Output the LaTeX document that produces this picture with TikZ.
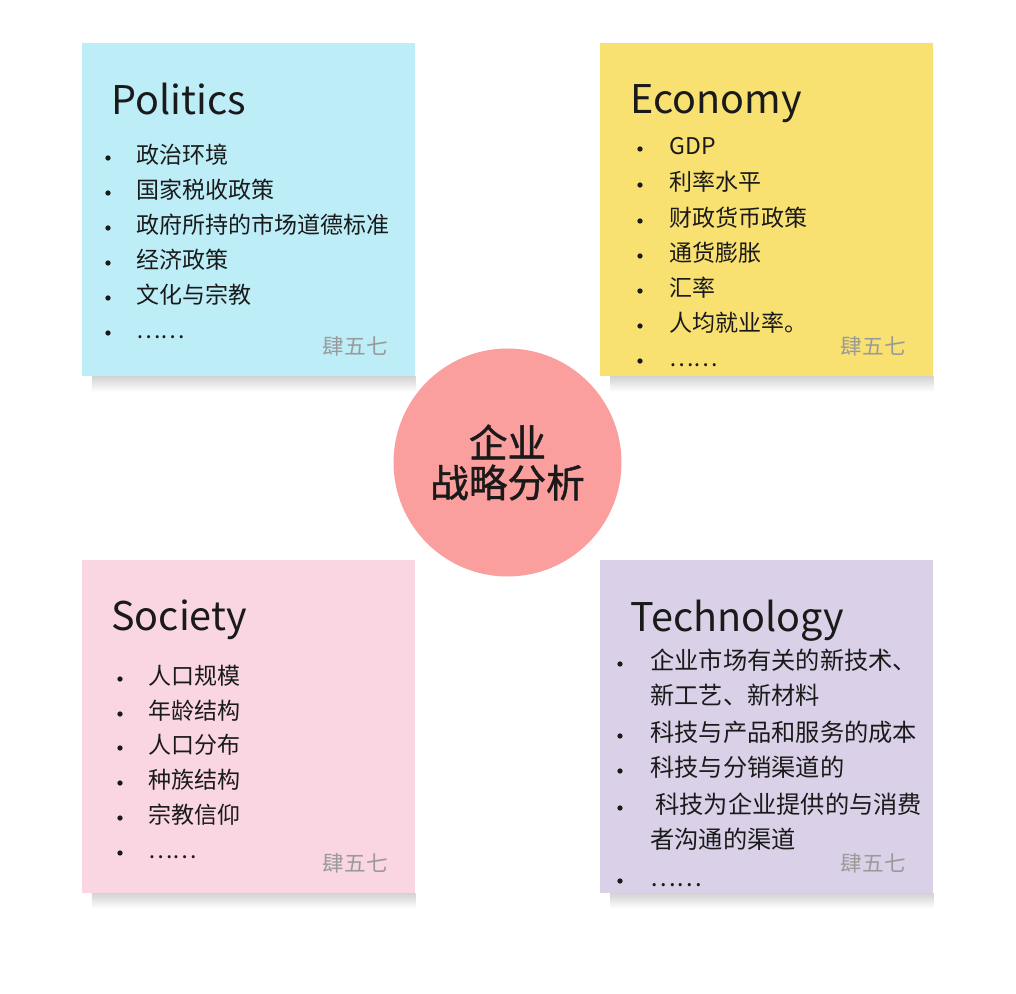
\documentclass[tikz,border=0pt]{standalone}
\usepackage{fontspec}
\setmainfont{Noto Sans CJK SC}
\newfontfamily\corefont[FakeBold=1.2]{Noto Sans CJK SC}
\definecolor{ink}{HTML}{1A1A1A}
\definecolor{signgray}{HTML}{9A9A9A}
\definecolor{polfill}{HTML}{BDEEF8}
\definecolor{ecofill}{HTML}{F8E071}
\definecolor{socfill}{HTML}{F9D6E1}
\definecolor{techfill}{HTML}{DAD1E8}
\definecolor{corefill}{HTML}{FA9E9E}
\begin{document}
\begin{tikzpicture}[x=0.02cm,y=-0.02cm,
  card/.style={anchor=north west,inner sep=0,minimum width=6.66cm,minimum height=6.66cm},
  head/.style={anchor=base west,inner sep=0,text=ink,font=\fontsize{22.5}{27}\selectfont},
  itm/.style={anchor=west,inner sep=0,text=ink,text height=0.88em,text depth=0.12em,
    font=\fontsize{13.1}{16}\selectfont},
  titm/.style={itm,font=\fontsize{13.8}{16}\selectfont},
  bul/.style={circle,fill=ink,inner sep=0,minimum size=3pt},
  sign/.style={anchor=east,inner sep=0,text=signgray,text height=0.88em,text depth=0.12em,
    font=\fontsize{12.3}{15}\selectfont}]
  \useasboundingbox (0,0) rectangle (1016,993);
  \fill[white] (0,0) rectangle (1016,993);

  % the four cards
  \node[card,fill=polfill] (pol) at (82,43) {};
  \node[card,fill=ecofill] (eco) at (600,43) {};
  \node[card,fill=socfill] (soc) at (82,560) {};
  \node[card,fill=techfill] (tech) at (600,560) {};
  % soft shadow under each card
  \foreach \c in {pol,eco,soc,tech}
    \shade[top color=black!17,bottom color=white]
      ([xshift=0.2cm]\c.south west) rectangle ([yshift=-0.3cm]\c.south east);

  % centre
  \node[circle,fill=corefill,minimum size=4.56cm,inner sep=0,align=center,text=ink,
    font=\corefont\fontsize{22}{22.7}\selectfont] (core) at (507.5,462.5) {企业\\战略分析};

  % Politics
  \node[head] (polhead) at (111,115) {Politics};
  \node[bul] (pb1) at (108,158) {};
  \node[bul] (pb2) at (108,193) {};
  \node[bul] (pb3) at (108,228) {};
  \node[bul] (pb4) at (108,263) {};
  \node[bul] (pb5) at (108,298) {};
  \node[bul] (pb6) at (108,333) {};
  \node[itm] (p1) at (136,157) {政治环境};
  \node[itm] (p2) at (136,192) {国家税收政策};
  \node[itm] (p3) at (136,227) {政府所持的市场道德标准};
  \node[itm] (p4) at (136,262) {经济政策};
  \node[itm] (p5) at (136,297) {文化与宗教};
  \node[itm] (p6) at (136,332) {……};
  \node[sign] (polsign) at (388,348) {肆五七};

  % Economy
  \node[head] (ecohead) at (630,114) {Economy};
  \node[bul] (eb1) at (640,149) {};
  \node[bul] (eb2) at (640,185) {};
  \node[bul] (eb3) at (640,221) {};
  \node[bul] (eb4) at (640,256) {};
  \node[bul] (eb5) at (640,291) {};
  \node[bul] (eb6) at (640,326) {};
  \node[bul] (eb7) at (640,361) {};
  \node[itm] (e1) at (669,148) {GDP};
  \node[itm] (e2) at (669,184) {利率水平};
  \node[itm] (e3) at (669,220) {财政货币政策};
  \node[itm] (e4) at (669,255) {通货膨胀};
  \node[itm] (e5) at (669,290) {汇率};
  \node[itm] (e6) at (669,325) {人均就业率。};
  \node[itm] (e7) at (669,360) {……};
  \node[sign] (ecosign) at (906,348) {肆五七};

  % Society
  \node[head] (sochead) at (111,630) {Society};
  \node[bul] (sb1) at (120,679) {};
  \node[bul] (sb2) at (120,714) {};
  \node[bul] (sb3) at (120,748) {};
  \node[bul] (sb4) at (120,783) {};
  \node[bul] (sb5) at (120,818) {};
  \node[bul] (sb6) at (120,853) {};
  \node[itm] (s1) at (148,678) {人口规模};
  \node[itm] (s2) at (148,713) {年龄结构};
  \node[itm] (s3) at (148,747) {人口分布};
  \node[itm] (s4) at (148,782) {种族结构};
  \node[itm] (s5) at (148,817) {宗教信仰};
  \node[itm] (s6) at (148,852) {……};
  \node[sign] (socsign) at (388,865) {肆五七};

  % Technology
  \node[head] (techhead) at (630,631) {Technology};
  \node[bul] (tb1) at (620,664) {};
  \node[bul] (tb3) at (620,736) {};
  \node[bul] (tb4) at (620,771) {};
  \node[bul] (tb5) at (620,808) {};
  \node[bul] (tb7) at (620,881) {};
  \node[titm] (t1) at (650,663) {企业市场有关的新技术、};
  \node[titm] (t2) at (650,698) {新工艺、新材料};
  \node[titm] (t3) at (650,735) {科技与产品和服务的成本};
  \node[titm] (t4) at (650,770) {科技与分销渠道的};
  \node[titm] (t5) at (655,807) {科技为企业提供的与消费};
  \node[titm] (t6) at (650,842) {者沟通的渠道};
  \node[titm] (t7) at (650,880) {……};
  \node[sign] (techsign) at (906,865) {肆五七};
\end{tikzpicture}
\end{document}
